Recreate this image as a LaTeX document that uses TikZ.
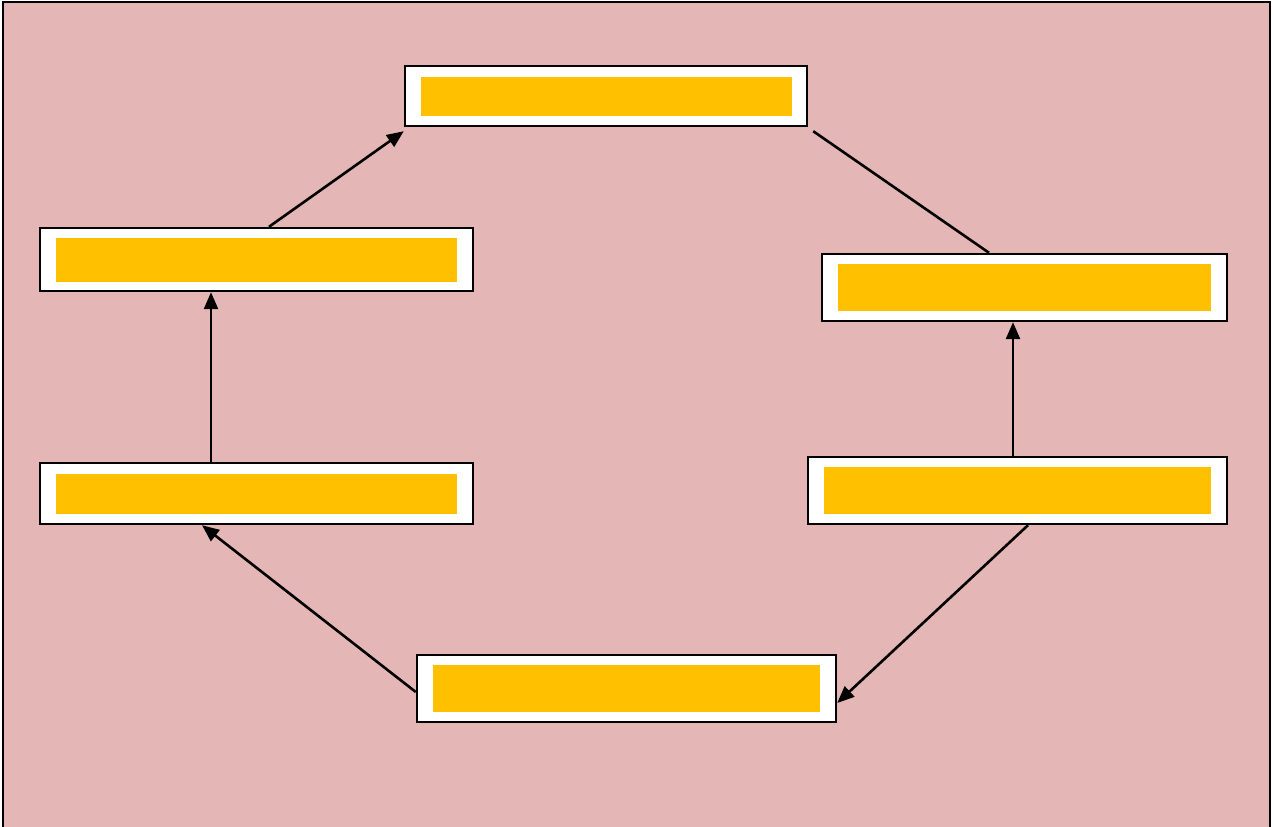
\documentclass[tikz,border=0pt]{standalone}
\usetikzlibrary{arrows.meta}
\definecolor{bgpink}{HTML}{E4B6B6}
\definecolor{barorange}{HTML}{FFC000}
\tikzset{
  frame/.style={draw=black, fill=white, line width=2.4pt, inner sep=0pt, rectangle},
  bar/.style={fill=barorange, draw=none, inner sep=0pt, rectangle},
  link/.style={draw=black, line width=2.6pt},
  arrowlink/.style={link, -{Triangle[length=17pt,width=14pt]}}
}
\begin{document}
\begin{tikzpicture}[x=1pt,y=-1pt]
  \useasboundingbox (0,0) rectangle (1274,827);
  % background panel, open past the lower edge
  \fill[bgpink] (3,2) rectangle (1270,840);
  \draw[line width=2.4pt] (3,840) -- (3,2) -- (1270,2) -- (1270,840);

  % framed bars
  \node[frame, minimum width=402pt, minimum height=60pt] (top) at (606,96) {};
  \node[bar, minimum width=371pt, minimum height=39pt] (topin) at (top) {};

  \node[frame, minimum width=433pt, minimum height=63pt] (lu) at (256.5,259.5) {};
  \node[bar, minimum width=401pt, minimum height=44pt] (luin) at (lu) {};

  \node[frame, minimum width=433pt, minimum height=61pt] (ll) at (256.5,493.5) {};
  \node[bar, minimum width=401pt, minimum height=40pt] (llin) at (ll) {};

  \node[frame, minimum width=419pt, minimum height=67pt] (bot) at (626.5,688.5) {};
  \node[bar, minimum width=387pt, minimum height=47pt] (botin) at (bot) {};

  \node[frame, minimum width=419pt, minimum height=67pt] (rl) at (1017.5,490.5) {};
  \node[bar, minimum width=387pt, minimum height=47pt] (rlin) at (rl) {};

  \node[frame, minimum width=405pt, minimum height=67pt] (ru) at (1024.5,287.5) {};
  \node[bar, minimum width=373pt, minimum height=47pt] (ruin) at (ru) {};

  % connectors
  \draw[arrowlink] ([xshift=10.5pt]rl.south) -- ([yshift=-14.5pt]bot.east);
  \draw[arrowlink] ([yshift=-3.5pt]bot.west) -- ([xshift=-54.5pt]ll.south);
  \draw[arrowlink] ([xshift=-45.5pt]ll.north) -- ([xshift=-45.5pt]lu.south);
  \draw[arrowlink] ([xshift=12.5pt]lu.north) -- ([yshift=-4pt]top.south west);
  \draw[link] ([xshift=5pt,yshift=-4pt]top.south east) -- ([xshift=-35.5pt]ru.north);
  \draw[arrowlink] ([xshift=-4.5pt]rl.north) -- ([xshift=-11.5pt]ru.south);
\end{tikzpicture}
\end{document}
